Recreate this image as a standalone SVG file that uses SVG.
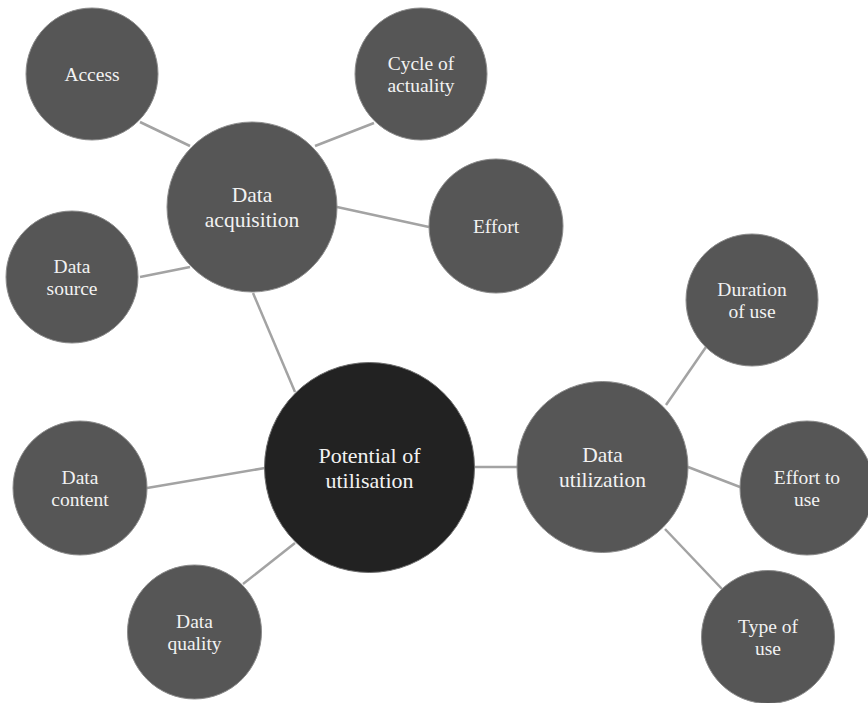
<svg xmlns="http://www.w3.org/2000/svg" width="868" height="703" viewBox="0 0 868 703">
  <style>
    .link { stroke: #a3a3a3; stroke-width: 2.5; fill: none; }
    .node { fill: #565656; stroke: #8c8c8c; stroke-width: 1; }
    .core { fill: #222222; stroke: #6e6e6e; stroke-width: 1; }
    .lbl { fill: #f2f2f2; font-family: "Liberation Serif", "Times New Roman", serif; font-size: 19.5px; text-anchor: middle; }
    .big { font-size: 21.5px; }
    .huge { font-size: 22px; }
  </style>
  <rect width="868" height="703" fill="#ffffff"/>

  <!-- connectors between the hubs and their satellite bubbles -->
  <g id="connectors">
    <line class="link" x1="140" y1="122" x2="190" y2="146"/>
    <line class="link" x1="374" y1="123" x2="315" y2="146"/>
    <line class="link" x1="337" y1="207" x2="429" y2="227"/>
    <line class="link" x1="140" y1="277" x2="190" y2="267"/>
    <line class="link" x1="253" y1="293" x2="295" y2="392"/>
    <line class="link" x1="474" y1="467" x2="518" y2="467"/>
    <line class="link" x1="147" y1="488" x2="265" y2="468"/>
    <line class="link" x1="243" y1="584" x2="295" y2="543"/>
    <line class="link" x1="666" y1="405" x2="706" y2="347"/>
    <line class="link" x1="688" y1="467" x2="740" y2="487"/>
    <line class="link" x1="665" y1="529" x2="722" y2="589"/>
  </g>

  <g id="access">
    <circle class="node" cx="92" cy="74" r="66"/>
    <text class="lbl" x="92" y="81">Access</text>
  </g>

  <g id="cycle-of-actuality">
    <circle class="node" cx="421" cy="74" r="66"/>
    <text class="lbl" x="421" y="70">Cycle of</text>
    <text class="lbl" x="421" y="92">actuality</text>
  </g>

  <g id="data-acquisition">
    <circle class="node" cx="252" cy="207" r="85"/>
    <text class="lbl big" x="252" y="202">Data</text>
    <text class="lbl big" x="252" y="227">acquisition</text>
  </g>

  <g id="effort">
    <circle class="node" cx="496" cy="226" r="67"/>
    <text class="lbl" x="496" y="233">Effort</text>
  </g>

  <g id="data-source">
    <circle class="node" cx="72" cy="277" r="66"/>
    <text class="lbl" x="72" y="273">Data</text>
    <text class="lbl" x="72" y="295">source</text>
  </g>

  <g id="duration-of-use">
    <circle class="node" cx="752" cy="300" r="66"/>
    <text class="lbl" x="752" y="296">Duration</text>
    <text class="lbl" x="752" y="318">of use</text>
  </g>

  <g id="potential-of-utilisation">
    <circle class="core" cx="369.5" cy="467.5" r="105"/>
    <text class="lbl huge" x="369.5" y="463">Potential of</text>
    <text class="lbl huge" x="369.5" y="488">utilisation</text>
  </g>

  <g id="data-utilization">
    <circle class="node" cx="602.5" cy="467" r="85.5"/>
    <text class="lbl big" x="602.5" y="462">Data</text>
    <text class="lbl big" x="602.5" y="487">utilization</text>
  </g>

  <g id="data-content">
    <circle class="node" cx="80" cy="488" r="67"/>
    <text class="lbl" x="80" y="484">Data</text>
    <text class="lbl" x="80" y="506">content</text>
  </g>

  <g id="effort-to-use">
    <circle class="node" cx="807" cy="488" r="67"/>
    <text class="lbl" x="807" y="484">Effort to</text>
    <text class="lbl" x="807" y="506">use</text>
  </g>

  <g id="data-quality">
    <circle class="node" cx="194.5" cy="632" r="67"/>
    <text class="lbl" x="194.5" y="628">Data</text>
    <text class="lbl" x="194.5" y="650">quality</text>
  </g>

  <g id="type-of-use">
    <circle class="node" cx="768" cy="637" r="66.5"/>
    <text class="lbl" x="768" y="633">Type of</text>
    <text class="lbl" x="768" y="655">use</text>
  </g>
</svg>
